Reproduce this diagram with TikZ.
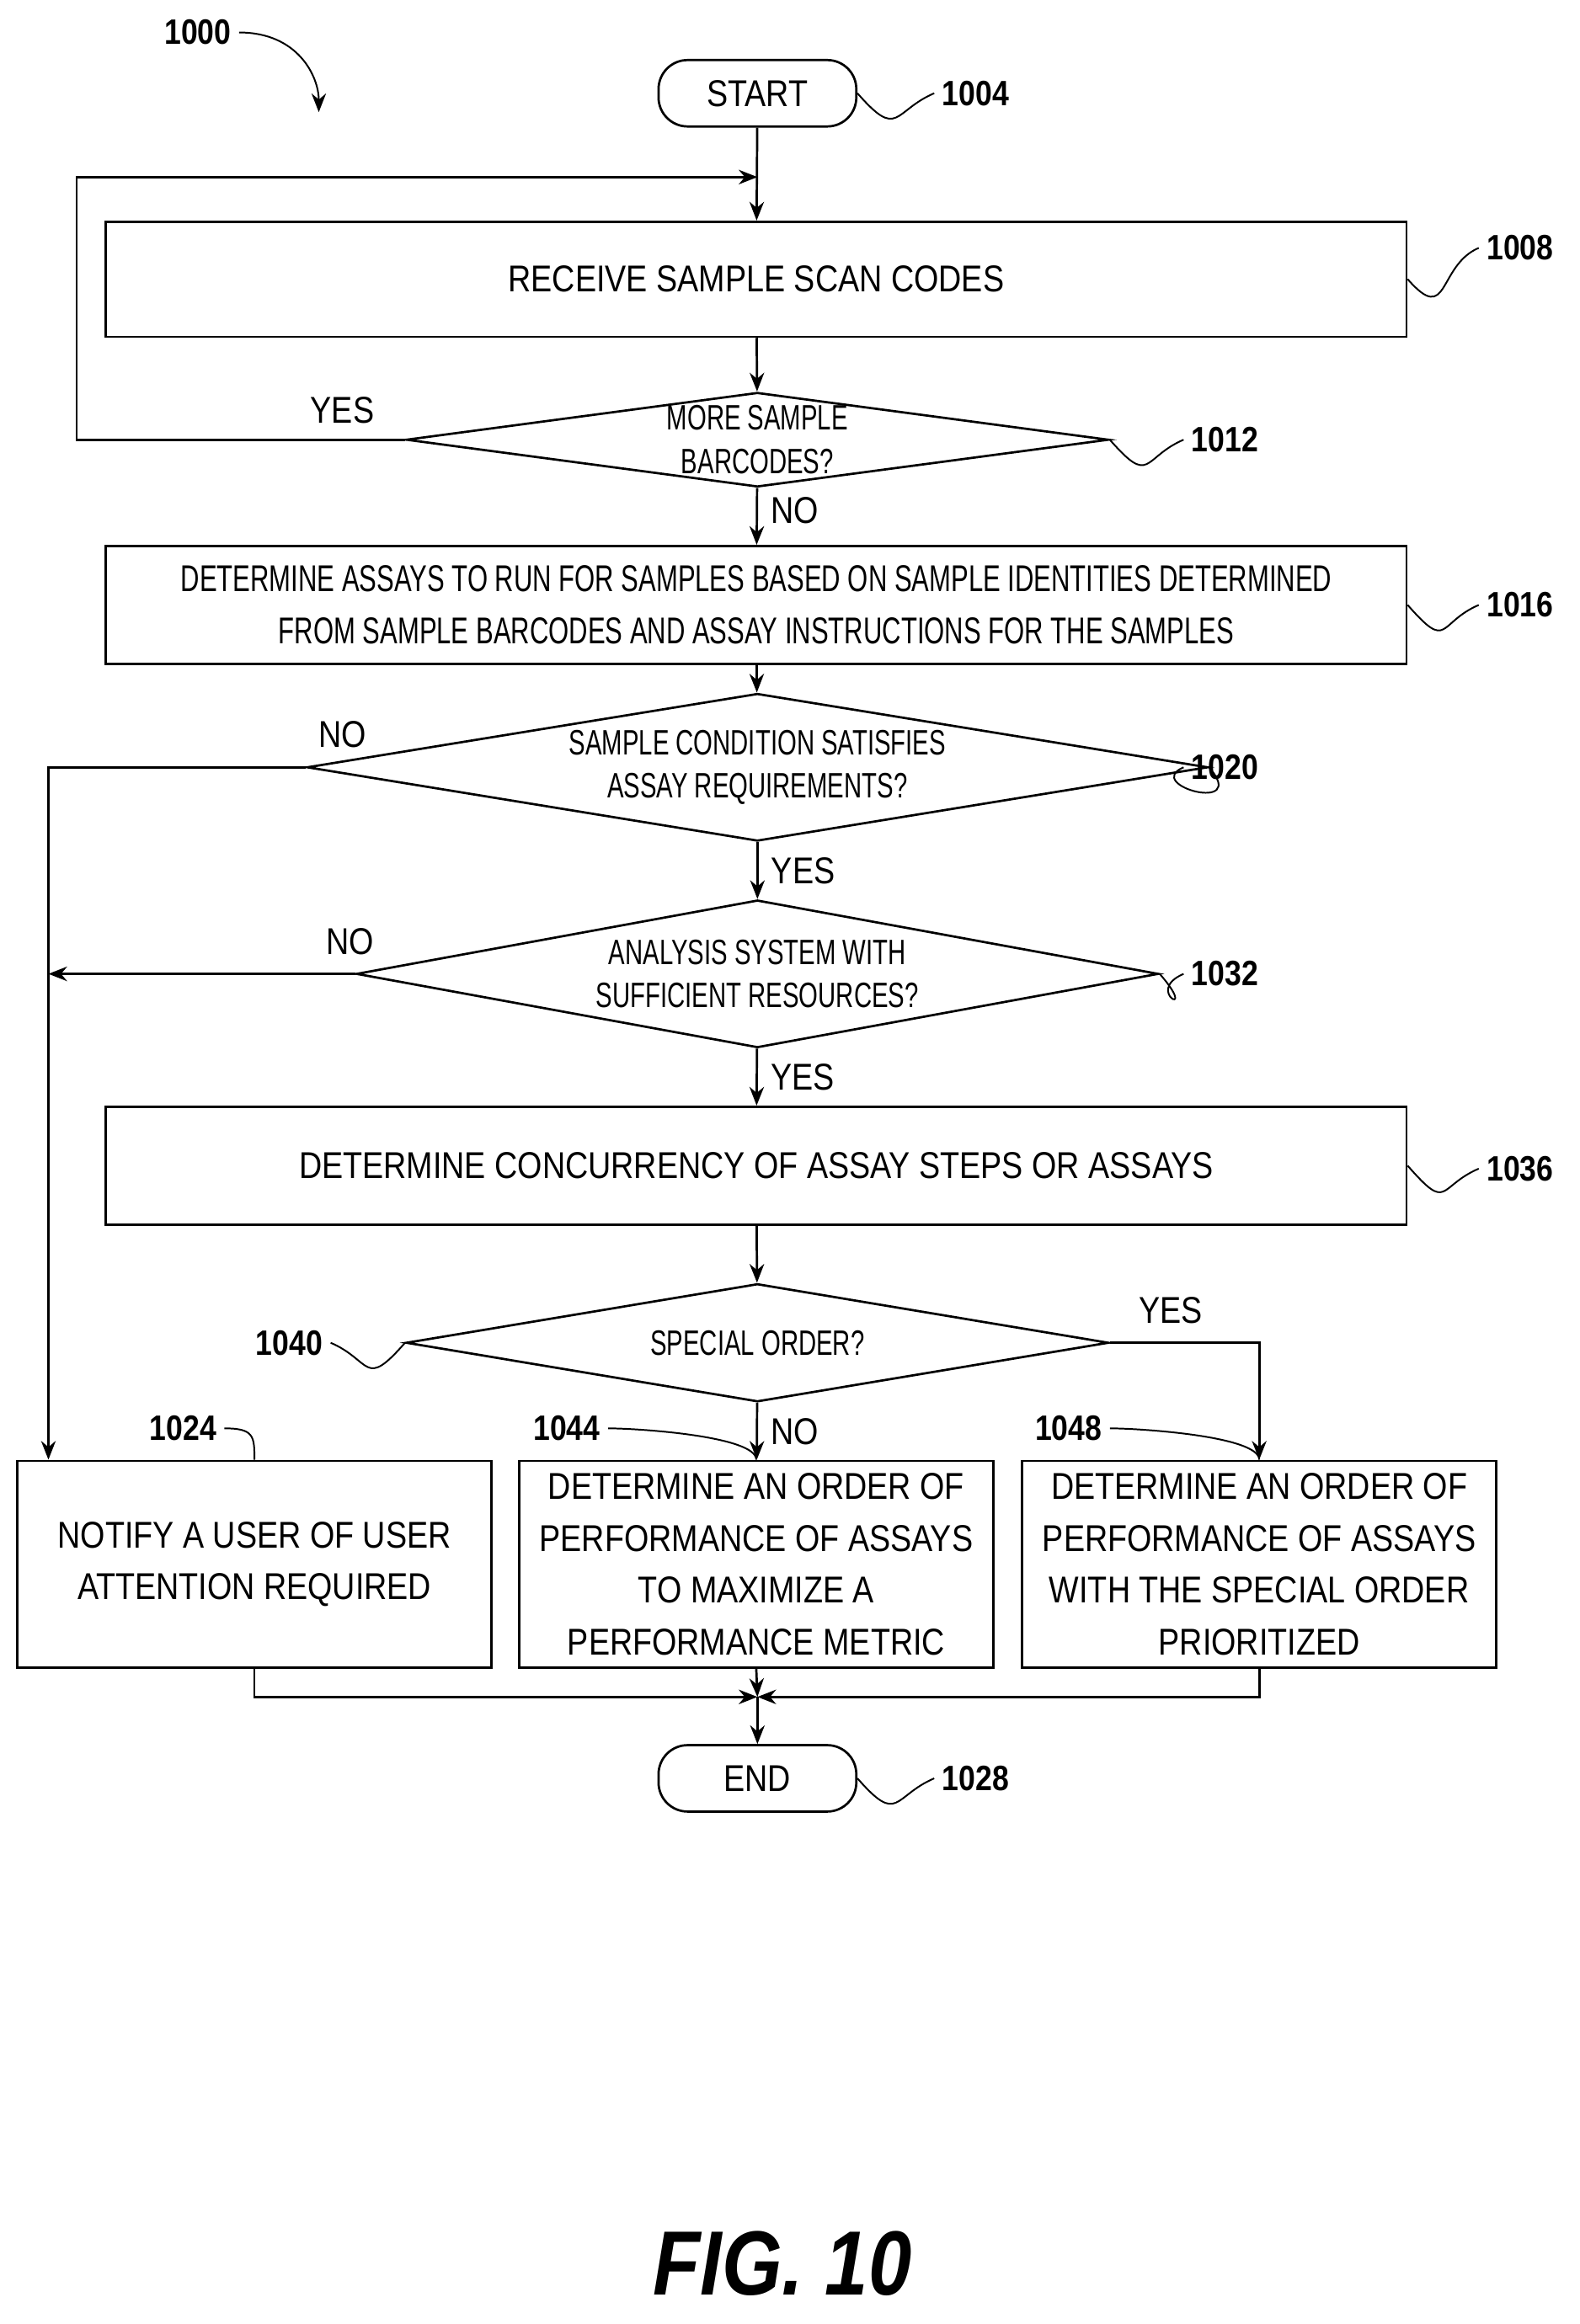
\documentclass[tikz,border=0pt]{standalone}
\usepackage{fontspec}
\setmainfont[FakeStretch=0.85]{Liberation Sans}
\newfontfamily\narrowfont[FakeStretch=0.7]{Liberation Sans}
\usetikzlibrary{shapes.geometric,arrows.meta,positioning}

\begin{document}
\begin{tikzpicture}[>={Stealth[length=9pt,width=7pt]}, line width=1.1pt,
    font=\fontsize{18}{25}\selectfont,
    box/.style={draw, rectangle, align=center, inner sep=0pt},
    term/.style={draw, rounded corners=14pt, minimum width=3.35cm, minimum height=1.125cm},
    decision/.style={draw, diamond, aspect=7, inner sep=0pt, align=center, minimum width=11.9cm, font=\fontsize{17}{21}\narrowfont},
    ref/.style={font=\fontsize{17}{20}\selectfont\bfseries},
    lbl/.style={font=\fontsize{18}{20}\selectfont}]
    \useasboundingbox (0,0) rectangle (26.75,-39.375);

    \node (start) [term] at (12.83,-1.58) {START};
    \node (b1008) [box, minimum width=22.03cm, minimum height=1.95cm] at (12.81,-4.73) {RECEIVE SAMPLE SCAN CODES};
    \node (d1012) [decision, minimum height=1.6cm] at (12.83,-7.45) {MORE SAMPLE\\BARCODES?};
    \node (b1016) [box, minimum width=22.03cm, minimum height=2cm, font=\fontsize{18}{25}\narrowfont] at (12.81,-10.25)
        {DETERMINE ASSAYS TO RUN FOR SAMPLES BASED ON SAMPLE IDENTITIES DETERMINED\\FROM SAMPLE BARCODES AND ASSAY INSTRUCTIONS FOR THE SAMPLES};
    \node (d1020) [decision, minimum height=2.5cm] at (12.83,-13) {SAMPLE CONDITION SATISFIES\\ASSAY REQUIREMENTS?};
    \node (d1032) [decision, minimum height=2.5cm] at (12.83,-16.5) {ANALYSIS SYSTEM WITH\\SUFFICIENT RESOURCES?};
    \node (b1036) [box, minimum width=22.03cm, minimum height=2cm] at (12.81,-19.75) {DETERMINE CONCURRENCY OF ASSAY STEPS OR ASSAYS};
    \node (d1040) [decision, minimum height=2cm] at (12.83,-22.75) {SPECIAL ORDER?};

    \node (b1024) [box, minimum width=8.03cm, minimum height=3.5cm] at (4.31,-26.5) {NOTIFY A USER OF USER\\ATTENTION REQUIRED};
    \node (b1044) [box, minimum width=8.03cm, minimum height=3.5cm] at (12.81,-26.5) {DETERMINE AN ORDER OF\\PERFORMANCE OF ASSAYS\\TO MAXIMIZE A\\PERFORMANCE METRIC};
    \node (b1048) [box, minimum width=8.03cm, minimum height=3.5cm] at (21.33,-26.5) {DETERMINE AN ORDER OF\\PERFORMANCE OF ASSAYS\\WITH THE SPECIAL ORDER\\PRIORITIZED};
    \node (end) [term] at (12.83,-30.13) {END};

    % reference numerals
    \node (l1000) [ref] at (3.35,-0.55) {1000};
    \coordinate (a1000) at (5.4,-1.9);
    \node (l1004) [ref, right=1.3cm of start] {1004};
    \node (l1008) [ref] at (25.75,-4.2) {1008};
    \node (l1012) [ref] at (20.75,-7.45) {1012};
    \node (l1016) [ref] at (25.75,-10.25) {1016};
    \node (l1020) [ref] at (20.75,-13) {1020};
    \node (l1032) [ref] at (20.75,-16.5) {1032};
    \node (l1036) [ref] at (25.75,-19.8) {1036};
    \node (l1040) [ref] at (4.9,-22.75) {1040};
    \node (l1024) [ref] at (3.1,-24.2) {1024};
    \node (l1044) [ref] at (9.6,-24.2) {1044};
    \node (l1048) [ref] at (18.1,-24.2) {1048};
    \node (l1028) [ref, right=1.3cm of end] {1028};
    \node (fig) [font=\fontsize{44}{50}\selectfont\bfseries\itshape] at (13.25,-38.35) {FIG. 10};

    % leaders
    \draw[thin, ->, line width=0.8pt] (l1000.east) .. controls +(1,0) and +(0,0.6) .. (a1000);
    \foreach \b/\l in {start/l1004, b1008/l1008, d1012/l1012, b1016/l1016, d1020/l1020, d1032/l1032, b1036/l1036, end/l1028}
        \draw[line width=0.8pt] (\b.east) .. controls +(0.7,-0.8) and +(-0.7,-0.3) .. (\l.west);
    \draw[line width=0.8pt] (d1040.west) .. controls +(-0.7,-0.8) and +(0.7,-0.3) .. (l1040.east);
    \foreach \b/\l in {b1024/l1024, b1044/l1044, b1048/l1048}
        \draw[line width=0.8pt] (\b.north) ++(0,0) .. controls +(0,0.4) and +(0.5,0) .. (\l.east);

    % flow
    \coordinate (loop) at (1.3,-3);
    \draw[->] (start) -- (b1008);
    \draw[->] (b1008) -- (d1012);
    \draw[->] (d1012.west) -- (loop |- d1012.west) -- (loop) -- (start |- loop);
    \node[lbl] at (5.8,-6.95) {YES};
    \draw[->] (d1012) -- (b1016) node[lbl, pos=0.4, right=0.1cm] {NO};
    \draw[->] (b1016) -- (d1020);
    \coordinate (left) at (0.82,-13);
    \draw[->] (d1020.west) -- (left) -- (b1024.north -| left);
    \node[lbl] at (5.8,-12.45) {NO};
    \draw[->] (d1020) -- (d1032) node[lbl, pos=0.5, right=0.1cm] {YES};
    \draw[->] (d1032.west) -- (left |- d1032.west);
    \node[lbl] at (5.93,-15.95) {NO};
    \draw[->] (d1032) -- (b1036) node[lbl, pos=0.5, right=0.1cm] {YES};
    \draw[->] (b1036) -- (d1040);
    \draw[->] (d1040) -- (b1044) node[lbl, pos=0.5, right=0.1cm] {NO};
    \draw[->] (d1040.east) -| (b1048.north);
    \node[lbl] at (19.83,-22.2) {YES};

    \coordinate (join) at (12.83,-28.75);
    \draw[->] (b1024.south) |- (join);
    \draw[->] (b1048.south) |- (join);
    \draw[->] (b1044.south) -- (join);
    \draw[->] (join) -- (end);
\end{tikzpicture}
\end{document}
